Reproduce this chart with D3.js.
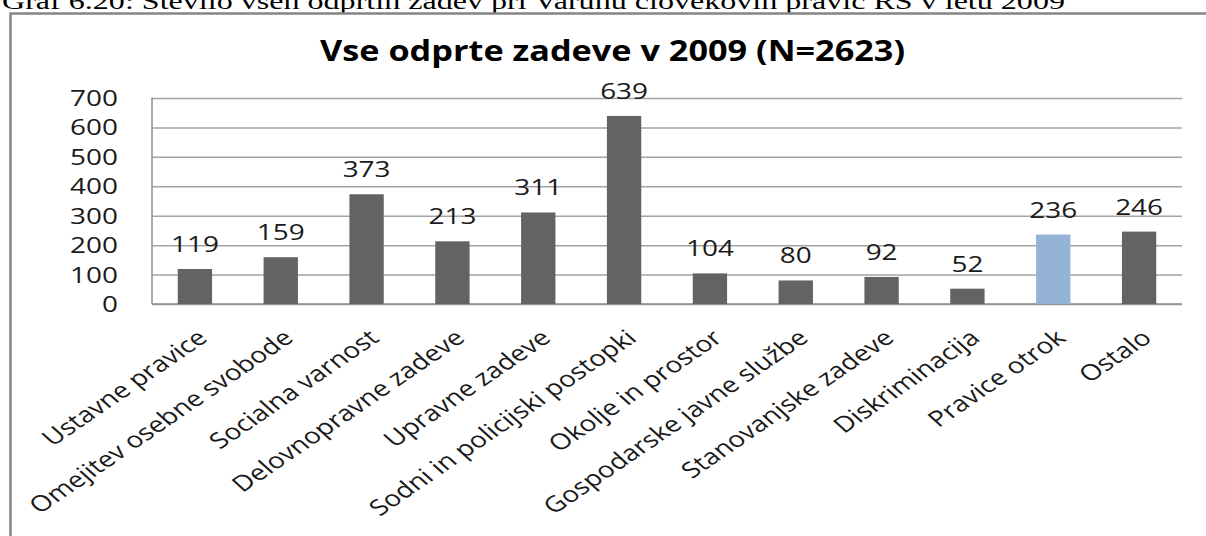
<!DOCTYPE html>
<html>
<head>
<meta charset="utf-8">
<script src="https://cdn.jsdelivr.net/npm/d3@7"></script>
<style>
  html, body { margin: 0; padding: 0; background: #fff; }
  svg { display: block; }
</style>
</head>
<body>
<script>
const categories = [
  "Ustavne pravice", "Omejitev osebne svobode", "Socialna varnost",
  "Delovnopravne zadeve", "Upravne zadeve", "Sodni in policijski postopki",
  "Okolje in prostor", "Gospodarske javne službe", "Stanovanjske zadeve",
  "Diskriminacija", "Pravice otrok", "Ostalo"
];
const values = [119, 159, 373, 213, 311, 639, 104, 80, 92, 52, 236, 246];
const highlighted = ["Pravice otrok"];
const yTicks = [0, 100, 200, 300, 400, 500, 600, 700];
const headerText = "Graf 6.20: Število vseh odprtih zadev pri Varuhu človekovih pravic RS v letu 2009";
const chartTitle = "Vse odprte zadeve v 2009 (N=2623)";

const W = 1206, H = 536;
const SX = 1.27; // horizontal stretch of the original image
const svg = d3.select("body").append("svg").attr("width", W).attr("height", H);

// header (document caption)
svg.append("text")
  .attr("x", 2).attr("y", 9)
  .attr("font-family", "'Liberation Serif', 'Times New Roman', serif")
  .attr("font-size", 24)
  .attr("textLength", 1063).attr("lengthAdjust", "spacingAndGlyphs")
  .attr("fill", "#000")
  .text(headerText);

// chart frame
svg.append("rect")
  .attr("x", 10.5).attr("y", 13.5).attr("width", 1400).attr("height", 700)
  .attr("fill", "none").attr("stroke", "#858585").attr("stroke-width", 2.5);

// title
svg.append("text")
  .attr("x", 320).attr("y", 61)
  .attr("font-family", "'Open Sans', sans-serif")
  .attr("font-weight", "bold")
  .attr("font-size", 28)
  .attr("textLength", 585).attr("lengthAdjust", "spacingAndGlyphs")
  .attr("fill", "#000")
  .text(chartTitle);

const x0 = 152, x1 = 1182, yTop = 98, yBot = 304;
const x = d3.scaleBand().domain(categories).range([x0, x1]).paddingInner(0.6).paddingOuter(0.3);
const y = d3.scaleLinear().domain([0, 700]).range([yBot, yTop]);

// gridlines
const yAxis = d3.axisLeft(y).tickValues(yTicks).tickSize(-(x1 - x0)).tickFormat("");
const ga = svg.append("g").attr("transform", `translate(${x0},0)`).call(yAxis);
ga.select(".domain").remove();
ga.selectAll(".tick line").attr("stroke", "#a3a3a3").attr("stroke-width", 1.5);

// left axis line and baseline
svg.append("line").attr("x1", x0).attr("x2", x0).attr("y1", yTop - 0.5).attr("y2", yBot)
  .attr("stroke", "#8e8e8e").attr("stroke-width", 1.5);
svg.append("line").attr("x1", x0).attr("x2", x1).attr("y1", yBot).attr("y2", yBot)
  .attr("stroke", "#8e8e8e").attr("stroke-width", 1.5);

// y tick labels
svg.append("g").selectAll("text").data(yTicks).join("text")
  .attr("transform", d => `translate(118,${y(d)}) scale(${SX},1)`)
  .attr("dy", "0.36em")
  .attr("text-anchor", "end")
  .attr("font-family", "'Open Sans', sans-serif")
  .attr("font-size", 22)
  .attr("fill", "#1a1a1a")
  .text(d => d);

// bars
const data = categories.map((c, i) => ({ c, v: values[i] }));
svg.append("g").selectAll("rect").data(data).join("rect")
  .attr("x", d => x(d.c))
  .attr("width", x.bandwidth())
  .attr("y", d => y(d.v))
  .attr("height", d => y(0) - y(d.v))
  .attr("fill", d => highlighted.includes(d.c) ? "#95b3d7" : "#636363");

// value labels
svg.append("g").selectAll("text").data(data).join("text")
  .attr("transform", d => `translate(${x(d.c) + x.bandwidth() / 2},${y(d.v) - 17}) scale(${SX},1)`)
  .attr("text-anchor", "middle")
  .attr("font-family", "'Open Sans', sans-serif")
  .attr("font-size", 22)
  .attr("fill", "#1a1a1a")
  .text(d => d.v);

// category labels
svg.append("g").selectAll("text").data(categories).join("text")
  .attr("transform", d => `translate(${x(d) + x.bandwidth() / 2 + 14},340) scale(${SX},1) rotate(-41)`)
  .attr("text-anchor", "end")
  .attr("font-family", "'Open Sans', sans-serif")
  .attr("font-size", 22)
  .attr("fill", "#1a1a1a")
  .text(d => d);
</script>
</body>
</html>
